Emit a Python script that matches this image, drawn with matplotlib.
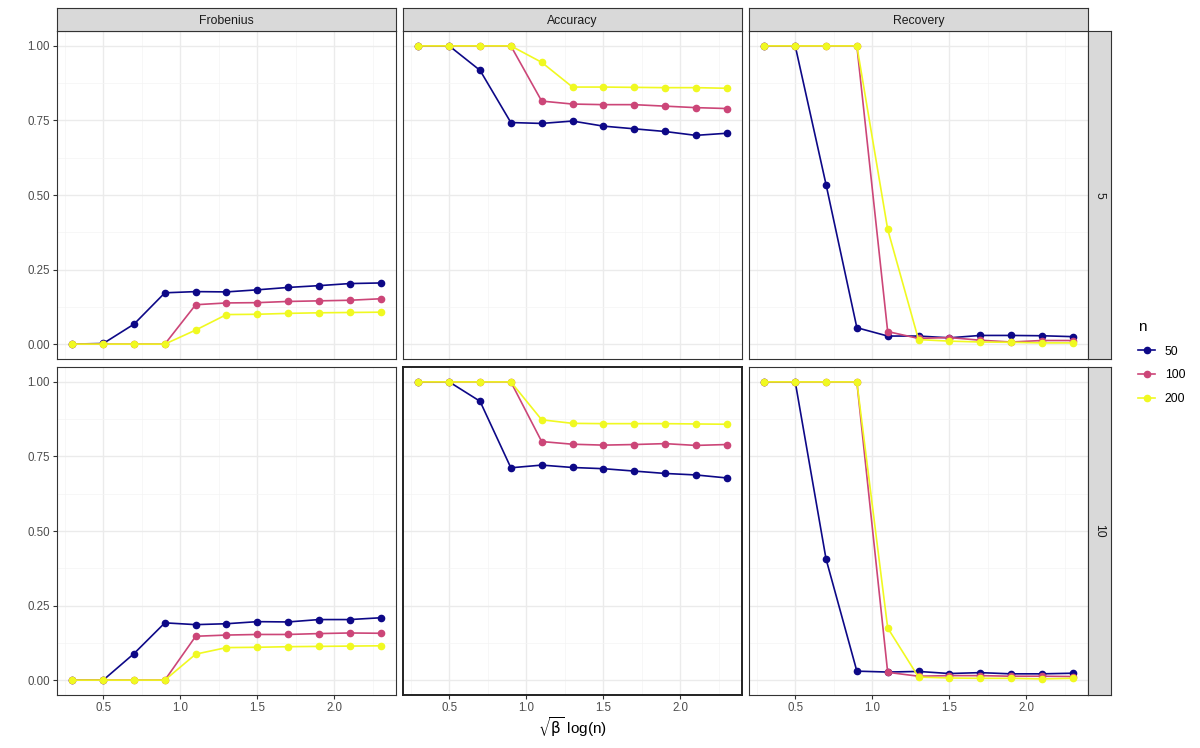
import matplotlib
matplotlib.use("Agg")
import matplotlib.pyplot as plt
from matplotlib.lines import Line2D

plt.rcParams['font.family'] = ['Liberation Sans', 'DejaVu Sans']
plt.rcParams['mathtext.fontset'] = 'dejavusans'

x = [0.3, 0.5, 0.7, 0.9, 1.1, 1.3, 1.5, 1.7, 1.9, 2.1, 2.3]
metrics = ["Frobenius", "Accuracy", "Recovery"]
rows = ["5", "10"]
n_levels = ["50", "100", "200"]
colors = ["#0D0887", "#CC4678", "#F0F921"]

# row "5"
frob_5_n50 = [0.0, 0.002, 0.067, 0.172, 0.176, 0.175, 0.182, 0.190, 0.196, 0.203, 0.205]
frob_5_n100 = [0.0, 0.0, 0.0, 0.0, 0.132, 0.138, 0.139, 0.143, 0.145, 0.147, 0.152]
frob_5_n200 = [0.0, 0.0, 0.0, 0.0, 0.047, 0.099, 0.100, 0.103, 0.105, 0.106, 0.107]
acc_5_n50 = [1.0, 1.0, 0.918, 0.743, 0.740, 0.748, 0.731, 0.722, 0.713, 0.700, 0.707]
acc_5_n100 = [1.0, 1.0, 1.0, 1.0, 0.815, 0.805, 0.803, 0.803, 0.798, 0.793, 0.790]
acc_5_n200 = [1.0, 1.0, 1.0, 1.0, 0.945, 0.862, 0.862, 0.861, 0.860, 0.860, 0.858]
rec_5_n50 = [1.0, 1.0, 0.535, 0.055, 0.027, 0.027, 0.021, 0.029, 0.029, 0.028, 0.025]
rec_5_n100 = [1.0, 1.0, 1.0, 1.0, 0.042, 0.019, 0.022, 0.013, 0.007, 0.012, 0.012]
rec_5_n200 = [1.0, 1.0, 1.0, 1.0, 0.385, 0.015, 0.010, 0.007, 0.006, 0.004, 0.004]

# row "10"
frob_10_n50 = [0.0, 0.0, 0.089, 0.192, 0.186, 0.189, 0.196, 0.195, 0.203, 0.203, 0.209]
frob_10_n100 = [0.0, 0.0, 0.0, 0.0, 0.147, 0.151, 0.153, 0.153, 0.156, 0.158, 0.157]
frob_10_n200 = [0.0, 0.0, 0.0, 0.0, 0.087, 0.109, 0.110, 0.112, 0.113, 0.114, 0.115]
acc_10_n50 = [1.0, 1.0, 0.935, 0.712, 0.721, 0.713, 0.709, 0.701, 0.693, 0.688, 0.678]
acc_10_n100 = [1.0, 1.0, 1.0, 1.0, 0.800, 0.791, 0.788, 0.790, 0.793, 0.787, 0.790]
acc_10_n200 = [1.0, 1.0, 1.0, 1.0, 0.873, 0.861, 0.860, 0.860, 0.860, 0.859, 0.858]
rec_10_n50 = [1.0, 1.0, 0.406, 0.030, 0.027, 0.029, 0.022, 0.025, 0.021, 0.021, 0.023]
rec_10_n100 = [1.0, 1.0, 1.0, 1.0, 0.026, 0.013, 0.015, 0.015, 0.013, 0.013, 0.012]
rec_10_n200 = [1.0, 1.0, 1.0, 1.0, 0.175, 0.010, 0.007, 0.006, 0.006, 0.004, 0.006]

data = {
    ("5", "Frobenius"): [frob_5_n50, frob_5_n100, frob_5_n200],
    ("5", "Accuracy"): [acc_5_n50, acc_5_n100, acc_5_n200],
    ("5", "Recovery"): [rec_5_n50, rec_5_n100, rec_5_n200],
    ("10", "Frobenius"): [frob_10_n50, frob_10_n100, frob_10_n200],
    ("10", "Accuracy"): [acc_10_n50, acc_10_n100, acc_10_n200],
    ("10", "Recovery"): [rec_10_n50, rec_10_n100, rec_10_n200],
}

W, H = 1200, 748
fig = plt.figure(figsize=(W / 100, H / 100), dpi=100)


def box(l, t, w, h):
    return [l / W, 1 - (t + h) / H, w / W, h / H]


col_left = [57, 403, 749]
panel_w = 339
row_top = [31, 367]
panel_h = 328
strip = 23

grid_major = "#EBEBEB"
grid_minor = "#F4F4F4"
border = "#333333"

for ri, r in enumerate(rows):
    for ci, m in enumerate(metrics):
        ax = fig.add_axes(box(col_left[ci], row_top[ri], panel_w, panel_h))
        ax.set_xlim(0.2, 2.4)
        ax.set_ylim(-0.05, 1.05)
        ax.set_xticks([0.5, 1.0, 1.5, 2.0])
        ax.set_xticks([0.25, 0.75, 1.25, 1.75, 2.25], minor=True)
        ax.set_yticks([0.0, 0.25, 0.5, 0.75, 1.0])
        ax.set_yticks([0.125, 0.375, 0.625, 0.875], minor=True)
        ax.grid(True, which="major", color=grid_major, lw=1.0, zorder=0)
        ax.grid(True, which="minor", color=grid_minor, lw=0.5, zorder=0)
        ax.set_axisbelow(True)
        for s in ax.spines.values():
            s.set_color(border)
            s.set_linewidth(0.8)
        if ri == 1 and ci == 1:
            for s in ax.spines.values():
                s.set_color("#222222")
                s.set_linewidth(1.4)
        ax.tick_params(which="minor", length=0)
        ax.tick_params(which="major", length=3, width=0.8, color=border,
                       labelsize=8.3, labelcolor="#4D4D4D", pad=2)
        if ci == 0:
            ax.set_yticklabels(["0.00", "0.25", "0.50", "0.75", "1.00"])
        else:
            ax.tick_params(axis="y", which="both", left=False, labelleft=False)
        if ri == 1:
            ax.set_xticklabels(["0.5", "1.0", "1.5", "2.0"])
        else:
            ax.tick_params(axis="x", which="both", bottom=False, labelbottom=False)
        for k, ys in enumerate(data[(r, m)]):
            ax.plot(x, ys, color=colors[k], lw=1.2, marker="o", ms=4.5,
                    mec=colors[k], mfc=colors[k], zorder=3 + k)
        # top strips
        if ri == 0:
            sax = fig.add_axes(box(col_left[ci], 8, panel_w, strip))
            sax.set_xticks([]); sax.set_yticks([])
            sax.set_facecolor("#D9D9D9")
            for s in sax.spines.values():
                s.set_color(border); s.set_linewidth(0.8)
            sax.text(0.5, 0.42, m, ha="center", va="center", fontsize=8.8,
                     color="#1A1A1A", transform=sax.transAxes)
    # right strips
    rax = fig.add_axes(box(1088, row_top[ri], strip, panel_h))
    rax.set_xticks([]); rax.set_yticks([])
    rax.set_facecolor("#D9D9D9")
    for s in rax.spines.values():
        s.set_color(border); s.set_linewidth(0.8)
    rax.text(0.5, 0.5, r, ha="center", va="center", fontsize=8.8, rotation=-90,
             color="#1A1A1A", transform=rax.transAxes)

fig.text(572.5 / W, 1 - 727 / H, r"$\sqrt{\mathrm{\beta}}$ log(n)", ha="center", va="center",
         fontsize=11, color="black")

# legend
handles = [Line2D([0], [0], color=c, lw=1.2, marker="o", ms=4.5) for c in colors]
leg = fig.legend(handles, n_levels, title="n", loc="upper left",
                 bbox_to_anchor=(1127 / W, 1 - 309 / H), frameon=False,
                 fontsize=8.8, title_fontsize=11, handlelength=1.4,
                 labelspacing=0.95, handletextpad=0.8)
leg._legend_box.align = "left"

fig.savefig("out.png", dpi=100, facecolor="white")
